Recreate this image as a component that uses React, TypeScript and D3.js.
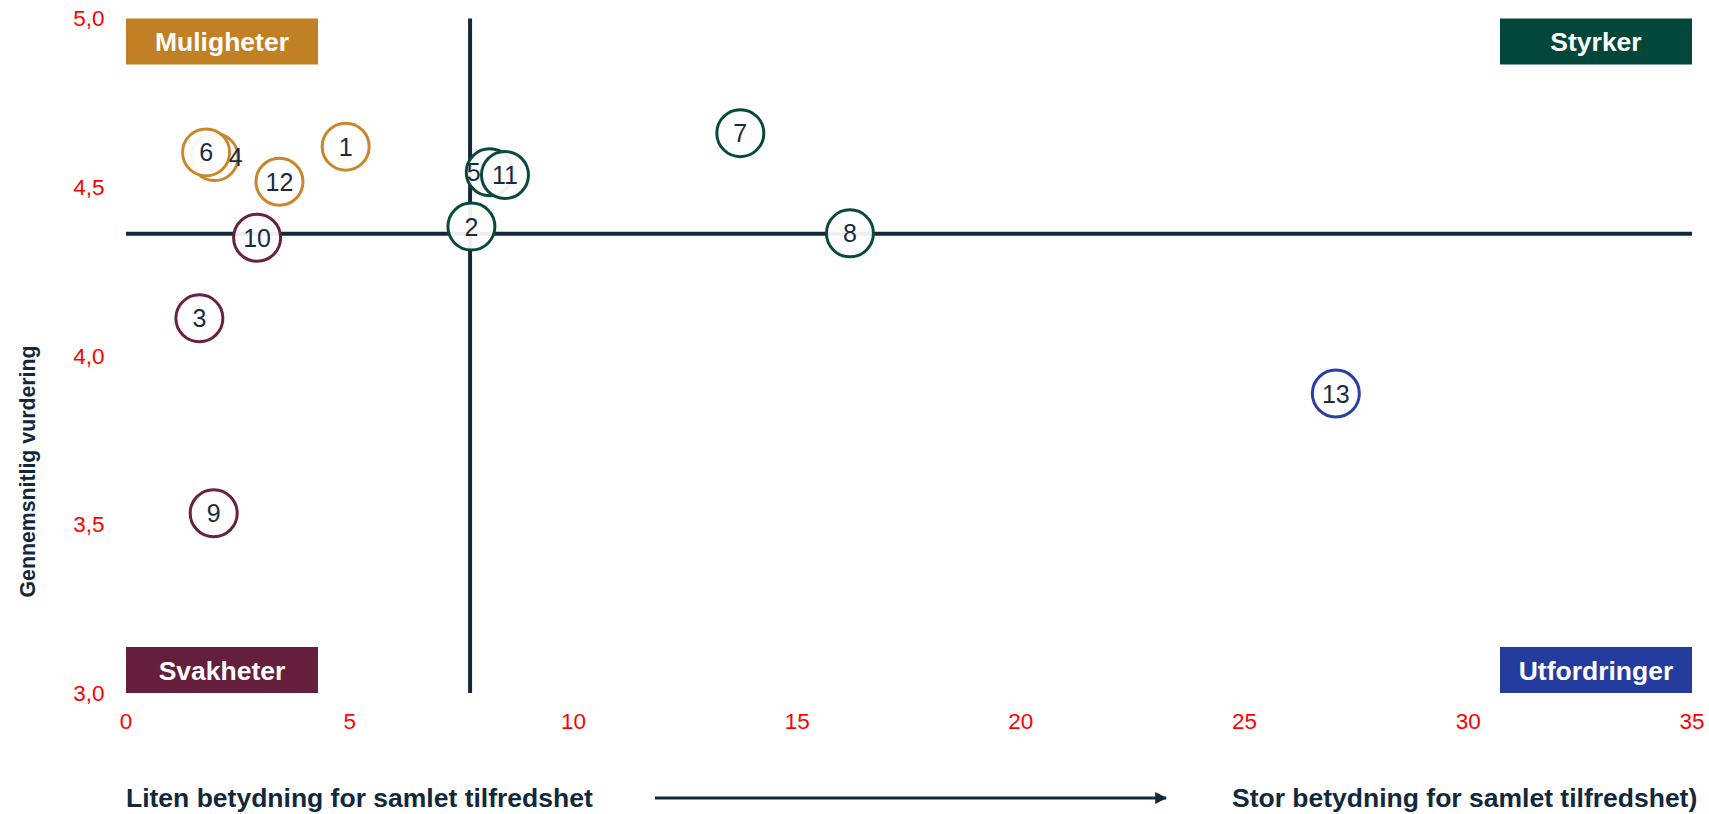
import React from "react";
import * as d3 from "d3";

const ids = ["1", "2", "3", "4", "5", "6", "7", "8", "9", "10", "11", "12", "13"];
const importance = [4.91, 7.72, 1.64, 1.98, 8.13, 1.79, 13.73, 16.18, 1.96, 2.93, 8.47, 3.43, 27.04];
const rating = [4.62, 4.383, 4.111, 4.589, 4.544, 4.603, 4.66, 4.363, 3.533, 4.35, 4.536, 4.516, 3.888];
const quadrant = ["M", "S", "W", "M", "S", "M", "S", "S", "W", "W", "S", "M", "U"];
const labelShiftX = [0, 0, 0, 21, -16, 0, 0, 0, 0, 0, 0, 0, 0];
const drawOrder = [0, 1, 2, 3, 4, 5, 6, 7, 8, 9, 10, 11, 12];

const xTicks = [0, 5, 10, 15, 20, 25, 30, 35];
const yTicks = [3.0, 3.5, 4.0, 4.5, 5.0];
const refX = 7.69;
const refY = 4.362;

const quadrantNames = { M: "Muligheter", S: "Styrker", W: "Svakheter", U: "Utfordringer" };
const quadrantColors = { M: "#C28024", S: "#03473A", W: "#651F3C", U: "#243C9E" };
const strokeColors = { M: "#C8872C", S: "#0A4A3C", W: "#6A2240", U: "#2A3FA6" };

const yTitle = "Gennemsnitlig vurdering";
const leftCaption = "Liten betydning for samlet tilfredshet";
const rightCaption = "Stor betydning for samlet tilfredshet)";

const FONT = "'Liberation Sans', Arial, Helvetica, sans-serif";
const NAVY = "#12283D";

export default function App() {
  const W = 1709;
  const H = 814;
  const x = d3.scaleLinear().domain([0, 35]).range([126, 1692]);
  const y = d3.scaleLinear().domain([3, 5]).range([693, 18.5]);
  const fmt = (v: number) => d3.format(".1f")(v).replace(".", ",");
  const boxW = 192;
  const boxH = 46;
  const r = 23.5;

  const boxes = [
    { k: "M", bx: x(0), by: y(5) },
    { k: "S", bx: x(35) - boxW, by: y(5) },
    { k: "W", bx: x(0), by: y(3) - boxH },
    { k: "U", bx: x(35) - boxW, by: y(3) - boxH },
  ];

  return (
    <svg
      width={W}
      height={H}
      style={{ position: "absolute", left: 0, top: 0, display: "block", background: "#fff" }}
      fontFamily={FONT}
    >
      <defs>
        <marker id="arrowHead" viewBox="0 0 10 10" refX="9" refY="5" markerWidth="4" markerHeight="4" orient="auto">
          <path d="M0,0 L10,5 L0,10 z" fill={NAVY} />
        </marker>
      </defs>

      {boxes.map((b) => (
        <g key={b.k}>
          <rect x={b.bx} y={b.by} width={boxW} height={boxH} fill={quadrantColors[b.k]} />
          <text
            x={b.bx + boxW / 2}
            y={b.by + boxH / 2 + 9.5}
            textAnchor="middle"
            fill="#ffffff"
            fontWeight="bold"
            fontSize={26.5}
          >
            {quadrantNames[b.k]}
          </text>
        </g>
      ))}

      <line x1={x(0)} x2={x(35)} y1={y(refY)} y2={y(refY)} stroke={NAVY} strokeWidth={4} />
      <line x1={x(refX)} x2={x(refX)} y1={y(5)} y2={y(3)} stroke={NAVY} strokeWidth={4} />

      {yTicks.map((t) => (
        <text key={"y" + t} x={104.5} y={y(t)} dy="0.35em" textAnchor="end" fill="#FF0000" fontSize={22.5}>
          {fmt(t)}
        </text>
      ))}

      {xTicks.map((t) => (
        <text key={"x" + t} x={x(t)} y={721.5} dy="0.35em" textAnchor="middle" fill="#FF0000" fontSize={22.5}>
          {t}
        </text>
      ))}

      {drawOrder.map((i) => (
        <circle
          key={"c" + i}
          cx={x(importance[i])}
          cy={y(rating[i])}
          r={r}
          fill="#ffffff"
          fillOpacity={0.93}
          stroke={strokeColors[quadrant[i]]}
          strokeWidth={3}
        />
      ))}
      {drawOrder.map((i) => (
        <text
          key={"t" + i}
          x={x(importance[i]) + labelShiftX[i]}
          y={y(rating[i])}
          dy="0.36em"
          textAnchor="middle"
          fill="#1B2A41"
          fontSize={25}
        >
          {ids[i]}
        </text>
      ))}

      <text
        transform={`translate(28,471.5) rotate(-90)`}
        textAnchor="middle"
        dy="0.35em"
        fill={NAVY}
        fontWeight="bold"
        fontSize={21.3}
      >
        {yTitle}
      </text>

      <text x={126} y={806.5} fill={NAVY} fontWeight="bold" fontSize={26.5}>
        {leftCaption}
      </text>
      <line x1={655} x2={1166} y1={798} y2={798} stroke={NAVY} strokeWidth={3} markerEnd="url(#arrowHead)" />
      <text x={1232} y={806.5} fill={NAVY} fontWeight="bold" fontSize={26.5}>
        {rightCaption}
      </text>
    </svg>
  );
}
